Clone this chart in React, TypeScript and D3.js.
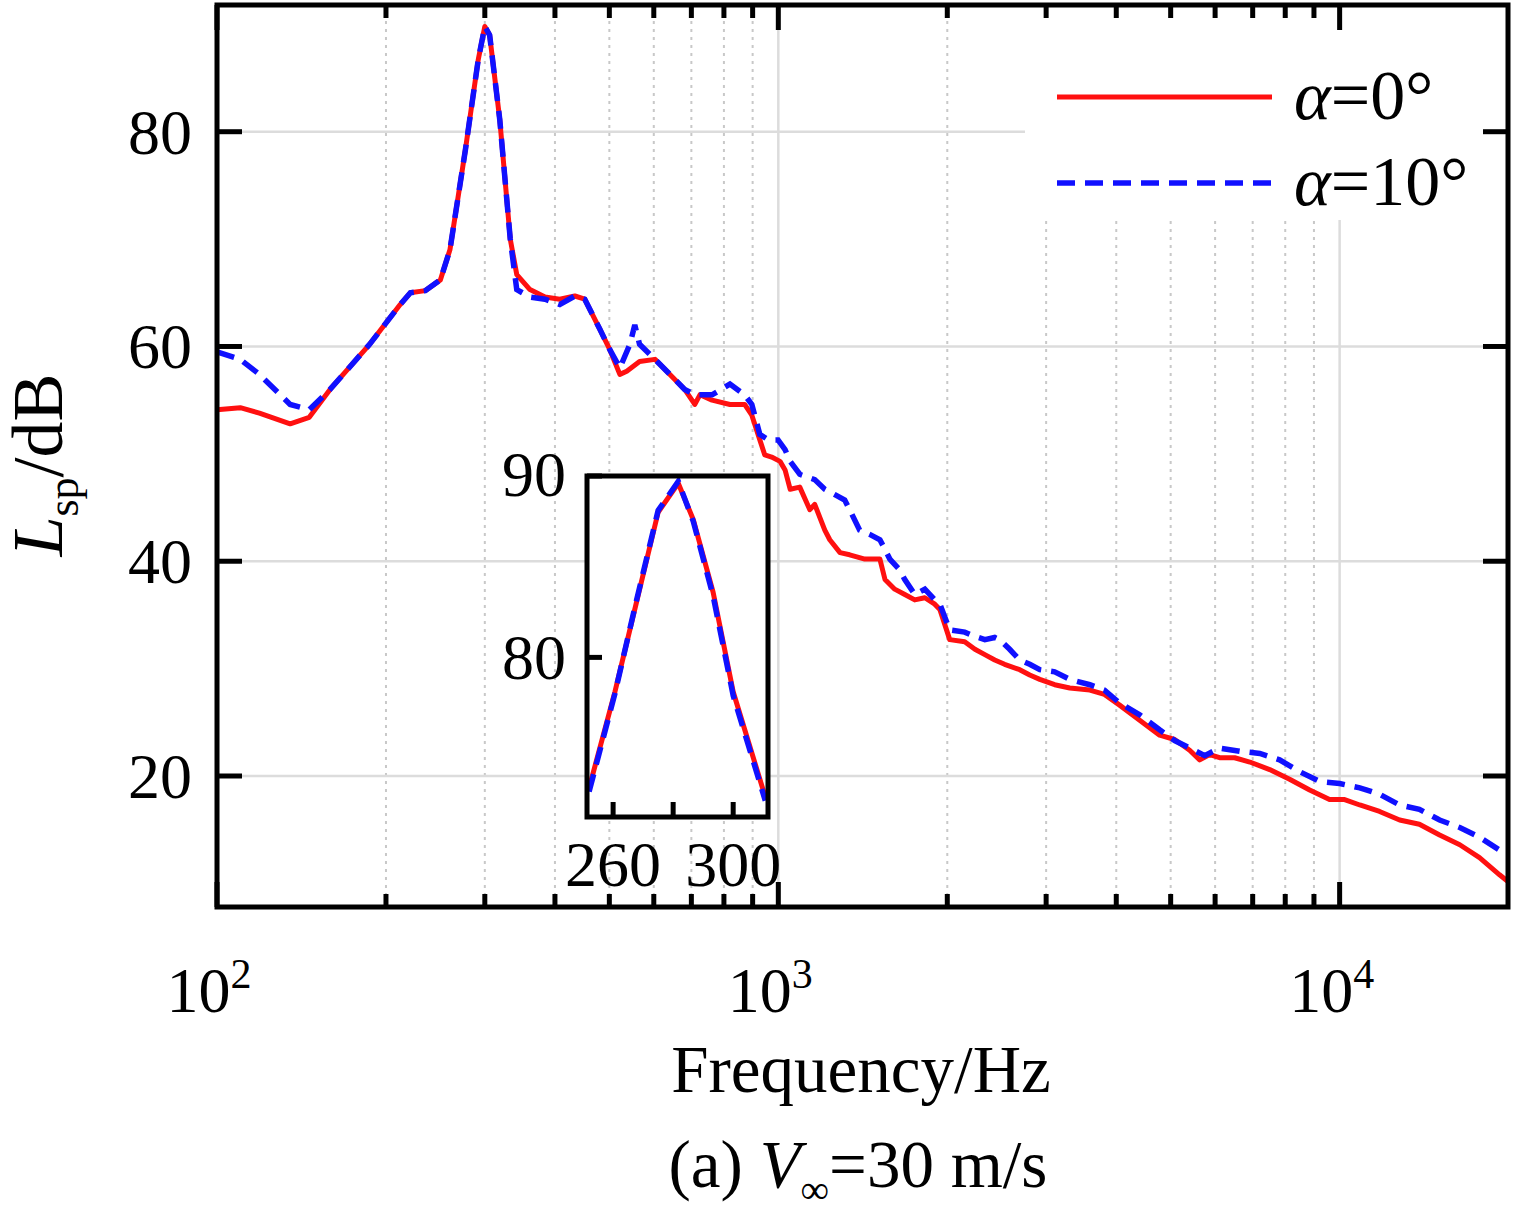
import { useRef, useEffect } from 'react';
import * as d3 from 'd3';

// main spectrum, alpha = 0 deg  [frequency Hz, dB]
const red0: [number, number][] = [
  [100, 54.1], [110, 54.3], [119, 53.8], [135, 52.8], [146, 53.4], [159, 56.0], [187, 60.2], [212, 63.9],
  [221, 65.0], [235, 65.2], [250, 66.2], [260, 69.0], [277, 78.3], [292, 86.7], [300, 89.8], [306, 89.0],
  [319, 81.1], [333, 70.0], [342, 66.7], [361, 65.3], [384, 64.6], [408, 64.4], [434, 64.7], [452, 64.4],
  [481, 61.6], [501, 59.7], [522, 57.4], [537, 57.7], [566, 58.6], [603, 58.8], [641, 57.4], [681, 56.0],
  [710, 54.6], [725, 55.5], [762, 55.0], [820, 54.6], [871, 54.6], [897, 53.6], [927, 51.3], [946, 49.9],
  [973, 49.7], [1007, 49.3], [1028, 48.5], [1050, 46.7], [1092, 46.9], [1138, 44.8], [1161, 45.3],
  [1210, 42.9], [1235, 42.0], [1288, 40.8], [1340, 40.6], [1426, 40.2], [1517, 40.2], [1549, 38.3],
  [1612, 37.4], [1680, 36.9], [1750, 36.4], [1824, 36.6], [1900, 36.0], [1940, 35.5], [2020, 32.7],
  [2148, 32.5], [2240, 31.8], [2333, 31.3], [2430, 30.8], [2530, 30.4], [2692, 29.9], [2805, 29.4],
  [2923, 29.0], [3107, 28.5], [3306, 28.2], [3589, 28.0], [3811, 27.6], [4055, 26.6], [4403, 25.2],
  [4779, 23.8], [5082, 23.4], [5405, 22.4], [5633, 21.5], [5868, 22.0], [6112, 21.7], [6500, 21.7],
  [6918, 21.3], [7506, 20.6], [8145, 19.7], [8843, 18.7], [9594, 17.8], [10207, 17.8], [10863, 17.3],
  [11780, 16.7], [12790, 15.9], [13870, 15.5], [15070, 14.5], [16370, 13.6], [17750, 12.4], [19270, 10.8],
  [19920, 10.2],
];

// main spectrum, alpha = 10 deg
const blue10: [number, number][] = [
  [100, 59.5], [110, 58.8], [119, 57.4], [135, 54.6], [146, 54.1], [159, 56.0], [187, 60.2], [212, 63.9],
  [221, 65.0], [235, 65.2], [250, 66.2], [260, 69.0], [277, 78.3], [292, 86.7], [300, 89.8], [306, 89.0],
  [319, 81.1], [333, 70.0], [342, 65.3], [361, 64.6], [384, 64.4], [408, 63.9], [434, 64.7], [452, 64.4],
  [481, 61.6], [501, 59.7], [522, 58.0], [544, 60.2], [555, 62.0], [566, 60.2], [603, 58.8], [641, 57.4],
  [681, 56.0], [710, 55.5], [762, 55.5], [820, 56.5], [871, 55.5], [897, 54.6], [927, 51.8], [961, 51.3],
  [999, 51.3], [1028, 50.4], [1050, 49.3], [1092, 48.1], [1161, 47.6], [1210, 46.7], [1261, 46.2],
  [1313, 45.7], [1340, 44.8], [1396, 42.9], [1455, 42.5], [1517, 42.0], [1549, 41.1], [1580, 40.2],
  [1645, 39.2], [1680, 38.3], [1750, 36.9], [1824, 37.4], [1900, 36.4], [1940, 36.0], [2020, 33.6],
  [2148, 33.4], [2240, 33.0], [2333, 32.7], [2430, 32.9], [2478, 32.7], [2583, 31.8], [2692, 30.8],
  [2805, 30.4], [2923, 29.9], [3107, 29.7], [3306, 29.0], [3589, 28.5], [3811, 28.0], [4055, 26.8],
  [4403, 25.7], [4779, 24.3], [5082, 23.3], [5405, 22.6], [5750, 21.9], [6112, 22.6], [6637, 22.3],
  [7209, 22.1], [7817, 21.5], [8487, 20.4], [9204, 19.5], [10000, 19.3], [10863, 18.9], [11780, 18.3],
  [12790, 17.3], [13870, 16.9], [15070, 15.9], [16370, 15.2], [17750, 14.3], [19270, 13.1], [19920, 12.7],
];

// inset: zoom of the peak
const insetRed: [number, number][] = [
  [252, 72.8], [260.6, 78.1], [267.3, 82.7], [275, 88.0], [281.7, 89.6], [286.7, 87.6], [293.3, 83.6],
  [300, 78.1], [310.7, 72.3],
];
const insetBlue: [number, number][] = [
  [252, 72.6], [260.6, 78.0], [267.3, 82.8], [275, 88.1], [281.7, 89.7], [286.7, 87.5], [293.3, 83.4],
  [300, 77.9], [310.7, 72.1],
];

const yMajor = [20, 40, 60, 80];
const xMajor = [100, 1000, 10000];
const insetXTicks = [260, 280, 300];
const insetXLabels = [260, 300];
const insetYTicks = [80, 90];

const FONT = '"Liberation Serif", "Times New Roman", serif';
const RED = '#ff1010';
const BLUE = '#1010ff';

const App = () => {
  const svgRef = useRef(null);

  useEffect(() => {
    const svg = d3.select(svgRef.current);
    svg.selectAll('*').remove();

    const L = 217, R = 1508, T = 5, B = 907;
    const x = d3.scaleLog().domain([100, 19950]).range([L, R]);
    const y = d3.scaleLinear().domain([7.8, 91.8]).range([B, T]);

    const minors: number[] = [];
    for (let e = 100; e < 20000; e *= 10) {
      for (let k = 2; k <= 9; k++) if (k * e < 19950) minors.push(k * e);
    }

    // grid
    const grid = svg.append('g');
    grid.selectAll('line.vm').data(minors).join('line')
      .attr('x1', (d) => x(d)).attr('x2', (d) => x(d)).attr('y1', T).attr('y2', B)
      .attr('stroke', '#c8c8c8').attr('stroke-width', 2).attr('stroke-dasharray', '3,5');
    grid.selectAll('line.vM').data(xMajor.slice(1)).join('line')
      .attr('x1', (d) => x(d)).attr('x2', (d) => x(d)).attr('y1', T).attr('y2', B)
      .attr('stroke', '#dcdcdc').attr('stroke-width', 2.5);
    grid.selectAll('line.h').data(yMajor).join('line')
      .attr('x1', L).attr('x2', R).attr('y1', (d) => y(d)).attr('y2', (d) => y(d))
      .attr('stroke', '#dcdcdc').attr('stroke-width', 2.5);

    // legend background
    svg.append('rect').attr('x', 1025).attr('y', T + 3).attr('width', R - 1028).attr('height', 212).attr('fill', 'white');

    const line = d3.line<[number, number]>().x((d) => x(d[0])).y((d) => y(d[1])).curve(d3.curveLinear);
    svg.append('path').attr('d', line(red0)).attr('fill', 'none').attr('stroke', RED).attr('stroke-width', 5)
      .attr('stroke-linejoin', 'round');
    svg.append('path').attr('d', line(blue10)).attr('fill', 'none').attr('stroke', BLUE).attr('stroke-width', 5.5)
      .attr('stroke-dasharray', '18,10');

    // frame + ticks
    svg.append('rect').attr('x', L).attr('y', T).attr('width', R - L).attr('height', B - T)
      .attr('fill', 'none').attr('stroke', 'black').attr('stroke-width', 5);
    const tk = svg.append('g').attr('stroke', 'black').attr('stroke-width', 5);
    minors.forEach((m) => {
      tk.append('line').attr('x1', x(m)).attr('x2', x(m)).attr('y1', B).attr('y2', B - 13);
      tk.append('line').attr('x1', x(m)).attr('x2', x(m)).attr('y1', T).attr('y2', T + 13);
    });
    xMajor.forEach((m) => {
      tk.append('line').attr('x1', x(m)).attr('x2', x(m)).attr('y1', B).attr('y2', B - 25);
      tk.append('line').attr('x1', x(m)).attr('x2', x(m)).attr('y1', T).attr('y2', T + 25);
    });
    yMajor.forEach((v) => {
      tk.append('line').attr('x1', L).attr('x2', L + 25).attr('y1', y(v)).attr('y2', y(v));
      tk.append('line').attr('x1', R).attr('x2', R - 25).attr('y1', y(v)).attr('y2', y(v));
    });

    const txt = svg.append('g').attr('font-family', FONT).attr('fill', 'black');
    yMajor.forEach((v) => {
      txt.append('text').attr('x', 192).attr('y', y(v) + 22).attr('text-anchor', 'end')
        .attr('font-size', 64).text(v);
    });
    xMajor.forEach((v) => {
      const t = txt.append('text').attr('x', x(v) - 8).attr('y', 1012).attr('text-anchor', 'middle').attr('font-size', 64);
      t.append('tspan').text('10');
      t.append('tspan').attr('dy', -24).attr('font-size', 42).text(Math.round(Math.log10(v)));
    });
    txt.append('text').attr('x', 861).attr('y', 1092).attr('text-anchor', 'middle').attr('font-size', 67).text('Frequency/Hz');
    const cap = txt.append('text').attr('x', 858).attr('y', 1187).attr('text-anchor', 'middle').attr('font-size', 67);
    cap.append('tspan').text('(a) ');
    cap.append('tspan').attr('font-style', 'italic').text('V');
    cap.append('tspan').attr('font-size', 40).attr('dy', 16).text('∞');
    cap.append('tspan').attr('dy', -16).text('=30 m/s');
    const yl = txt.append('text').attr('transform', 'translate(62,465) rotate(-90)').attr('text-anchor', 'middle').attr('font-size', 72);
    yl.append('tspan').attr('font-style', 'italic').text('L');
    yl.append('tspan').attr('font-size', 44).attr('dy', 16).text('sp');
    yl.append('tspan').attr('dy', -16).text('/dB');

    // legend
    svg.append('line').attr('x1', 1057).attr('x2', 1272).attr('y1', 97).attr('y2', 97)
      .attr('stroke', RED).attr('stroke-width', 5);
    svg.append('line').attr('x1', 1057).attr('x2', 1272).attr('y1', 183).attr('y2', 183)
      .attr('stroke', BLUE).attr('stroke-width', 5.5).attr('stroke-dasharray', '18,10');
    [['0°', 119], ['10°', 205]].forEach(([s, yy]) => {
      const t = txt.append('text').attr('x', 1294).attr('y', yy).attr('font-size', 70);
      t.append('tspan').attr('font-style', 'italic').text('α');
      t.append('tspan').text('=' + s);
    });

    // inset
    const iL = 587, iR = 768, iT = 476, iB = 817;
    const ix = d3.scaleLinear().domain([251.3, 311.6]).range([iL, iR]);
    const iy = d3.scaleLinear().domain([71.2, 90]).range([iB, iT]);
    svg.append('rect').attr('x', iL).attr('y', iT).attr('width', iR - iL).attr('height', iB - iT)
      .attr('fill', 'white');
    const iline = d3.line<[number, number]>().x((d) => ix(d[0])).y((d) => iy(d[1]));
    svg.append('path').attr('d', iline(insetRed)).attr('fill', 'none').attr('stroke', RED).attr('stroke-width', 5);
    svg.append('path').attr('d', iline(insetBlue)).attr('fill', 'none').attr('stroke', BLUE).attr('stroke-width', 5.5)
      .attr('stroke-dasharray', '18,10');
    svg.append('rect').attr('x', iL).attr('y', iT).attr('width', iR - iL).attr('height', iB - iT)
      .attr('fill', 'none').attr('stroke', 'black').attr('stroke-width', 5);
    insetXTicks.forEach((v) => {
      svg.append('line').attr('x1', ix(v)).attr('x2', ix(v)).attr('y1', iB).attr('y2', iB - 15)
        .attr('stroke', 'black').attr('stroke-width', 5);
    });
    insetYTicks.forEach((v) => {
      svg.append('line').attr('x1', iL).attr('x2', iL + 15).attr('y1', iy(v)).attr('y2', iy(v))
        .attr('stroke', 'black').attr('stroke-width', 5);
      txt.append('text').attr('x', 566).attr('y', v === 90 ? iy(v) + 20 : iy(v) + 22).attr('text-anchor', 'end')
        .attr('font-size', 64).text(v);
    });
    insetXLabels.forEach((v) => {
      txt.append('text').attr('x', ix(v)).attr('y', 886).attr('text-anchor', 'middle').attr('font-size', 64).text(v);
    });
  }, []);

  return (
    <svg ref={svgRef} width={1514} height={1215}
      style={{ position: 'absolute', left: 0, top: 0, background: 'white' }} />
  );
};

export default App;
